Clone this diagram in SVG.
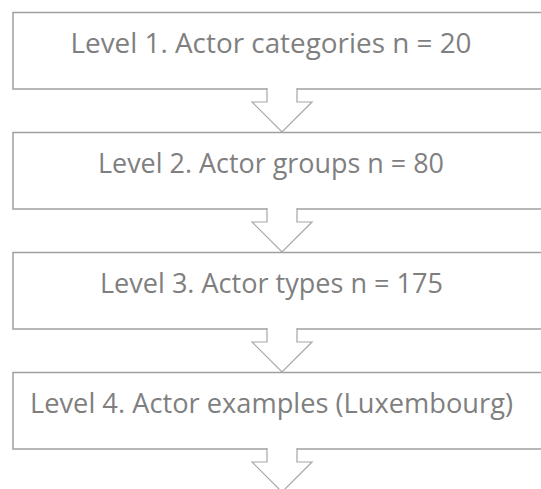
<svg xmlns="http://www.w3.org/2000/svg" width="541" height="489" viewBox="0 0 541 489">
<style>
.box{fill:#ffffff;stroke:#a0a0a0;stroke-width:1.5}
.arr{fill:#ffffff;stroke:#a6a6a6;stroke-width:1.2}
.lbl{font-family:"Open Sans","Noto Sans",sans-serif;font-size:27.5px;fill:#7f7f7f;text-anchor:middle}
</style>
<rect width="541" height="489" fill="#ffffff"/>
<g id="level1"><rect class="box" x="13" y="12.5" width="545" height="76.5"/><text class="lbl" x="271" y="53" textLength="401" lengthAdjust="spacingAndGlyphs">Level 1. Actor categories n = 20</text></g>
<g id="level2"><rect class="box" x="13" y="132.5" width="545" height="76.5"/><text class="lbl" x="271" y="173" textLength="346" lengthAdjust="spacingAndGlyphs">Level 2. Actor groups n = 80</text></g>
<g id="level3"><rect class="box" x="13" y="252.5" width="545" height="76.5"/><text class="lbl" x="271.5" y="293" textLength="343" lengthAdjust="spacingAndGlyphs">Level 3. Actor types n = 175</text></g>
<g id="level4"><rect class="box" x="13" y="372.5" width="545" height="76.5"/><text class="lbl" x="271.5" y="413" textLength="483" lengthAdjust="spacingAndGlyphs">Level 4. Actor examples (Luxembourg)</text></g>
<g id="connectors">
<path class="arr" d="M267,88 V102 H252 L282,132 L312,102 H297 V88"/>
<path class="arr" d="M267,208 V222 H252 L282,252 L312,222 H297 V208"/>
<path class="arr" d="M267,328 V342 H252 L282,372 L312,342 H297 V328"/>
<path class="arr" d="M267,448 V462 H252 L282,492 L312,462 H297 V448"/>
</g>
</svg>
